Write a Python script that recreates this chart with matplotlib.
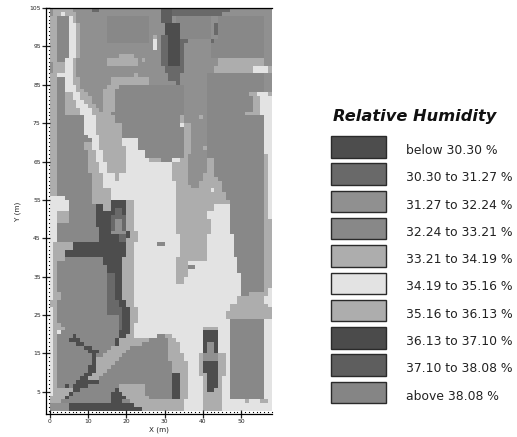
"""
Relative humidity class map (1 m cells) with a grey class legend on the right.
"""
import numpy as np
import matplotlib
matplotlib.use("Agg")
import matplotlib.pyplot as plt
from matplotlib.colors import ListedColormap
from matplotlib.patches import Rectangle

# ── Data ───────────────────────────────────────────────────────────────────
CLASS_KEYS = "abcdefghij"
CLASS_LABELS = ["below 30.30 %", "30.30 to 31.27 %", "31.27 to 32.24 %",
                "32.24 to 33.21 %", "33.21 to 34.19 %", "34.19 to 35.16 %",
                "35.16 to 36.13 %", "36.13 to 37.10 %", "37.10 to 38.08 %",
                "above 38.08 %"]
CLASS_GREYS = ["#4d4d4d", "#696969", "#909090", "#888888", "#adadad",
               "#e3e3e3", "#adadad", "#4b4b4b", "#5e5e5e", "#858585"]

X_TICKS = [0, 10, 20, 30, 40, 50]
Y_TICKS = [5, 15, 25, 35, 45, 55, 65, 75, 85, 95, 105]
N_X, N_Y = 58, 105

# one row per metre band: (y_top, y_bottom, "x_start class ...")
ROWS_TOP = [
    (105, 104, "0c 1e 6c 11b 13c 29i 32b 47c"),
    (104, 103, "0c 1e 3f 4e 7c 29i 32b 45c"),
    (103, 101, "0e 2d 5f 6e 7c 15d 26c 29i 32c 33d 42c 44d 56c"),
    (101, 98, "0e 2d 5f 7e 8c 15d 26c 30a 34d 42c 43b 44d 56c"),
    (98, 97, "0e 2d 5f 7e 8c 15d 26c 27e 28c 29b 31a 34d 42c 44d 56c"),
    (97, 96, "0e 2d 5f 7e 8c 15d 26c 27f 28c 29b 31a 34b 36c 42b 43d 56c"),
    (96, 94, "0e 2d 5f 7e 8c 27f 28c 29b 31a 34b 35c 42d 56c"),
    (94, 93, "0e 2d 5f 7e 8c 29b 31a 34b 35c 42d 56c"),
    (93, 92, "0e 2d 5f 7e 8c 18e 22c 29b 31a 34b 35c 42d 56c"),
    (92, 91, "0e 2d 4f 6e 7c 15e 23c 24e 25c 29b 31a 34b 35c 44e 56c"),
    (91, 90, "0c 1e 4f 6e 7c 15e 23c 29b 31a 34b 35c 44e 56c"),
    (90, 88, "0c 1e 4f 6e 7c 30b 35c 43e 53f 57e"),
    (88, 87, "0e 2f 6e 7c 22e 23c 31b 34c 41d 56c"),
    (87, 86, "0e 2d 4f 6e 8c 16e 26c 31b 34c 41d 56c"),
    (86, 85, "0e 2d 4f 6e 8c 16e 26c 33b 34c 41d 56c"),
    (85, 84, "0e 2d 4f 7e 8c 15e 18d 35c 41d 56c"),
    (84, 83, "0e 2d 4f 7e 9c 14e 17d 35c 41d 56c"),
    (83, 82, "0e 2d 4e 6f 8e 10c 14e 17d 35c 41d 52e 54f 57e"),
    (82, 81, "0e 2d 4e 6f 8e 11c 14e 17d 35c 41d 53e 55f"),
    (81, 80, "0e 2d 4e 7f 9e 11c 14e 17d 35c 41d 53e 55f"),
    (80, 79, "0e 2d 4e 7f 10e 12c 14e 17d 35c 41d 53e 55f"),
    (79, 78, "0e 2d 4e 8f 11e 13c 14e 17d 35c 41d 53e 55f"),
]
ROWS_MID = [
    (78, 77, "0e 2d 4e 8f 11e 16d 35c 41d 51e 55f"),
    (77, 76, "0e 2d 9f 12e 17d 34e 35c 39e 40c 41d 56f"),
    (76, 75, "0e 2d 9f 12e 17d 34e 35c 41d 56f"),
    (75, 74, "0e 2d 9f 12e 19d 34f 35e 37c 41d 56f"),
    (74, 72, "0e 2d 9f 12e 19d 35e 37c 41d 56f"),
    (72, 71, "0e 2d 10f 13e 19d 35e 37c 41d 56f"),
    (71, 70, "0e 2d 11f 13e 19f 23d 35e 37c 41d 56f"),
    (70, 69, "0e 2d 9e 11f 13e 19f 23d 35e 37c 41d 56f"),
    (69, 68, "0e 2d 9e 11f 13e 20f 23d 35e 37c 40e 41d 56f"),
    (68, 67, "0e 2d 10e 12f 14e 20f 25d 35e 37c 41d 56f"),
    (67, 66, "0e 2d 10e 12f 14e 20f 25d 35e 36c 41d 56e 57f"),
    (66, 65, "0e 2d 10e 12f 14e 20f 26e 29d 32f 34e 36c 41e 43d 56e 57f"),
    (65, 62, "0e 2d 10e 13f 15e 20f 32e 36c 41e 43d 56e 57f"),
    (62, 61, "0e 2d 11e 14f 17e 18f 32e 36c 40e 43d 56e 57f"),
    (61, 60, "0e 2d 11e 14f 17e 18f 32e 36c 40e 44d 56e 57f"),
    (60, 59, "0e 2d 11e 14f 33e 36c 39e 45d 56e 57f"),
    (59, 58, "0e 2d 11e 14f 33e 37c 39e 45d 56e 57f"),
    (58, 57, "0e 2d 11e 16f 33e 42f 43e 45d 56e 57f"),
    (57, 56, "0e 2d 11e 16f 33e 46d 56e 57f"),
    (56, 55, "0f 4d 11e 16f 33e 46d 56e 57f"),
    (55, 54, "0f 5d 11e 16a 20e 22f 33e 47d 56e 57f"),
    (54, 53, "0f 5d 12a 14e 16a 20e 22f 33e 43f 47d 56e 57f"),
    (53, 52, "0f 5d 12a 14e 16a 17b 19a 20e 22f 33e 43f 47d 56e 57f"),
    (52, 51, "0f 2e 5d 12a 17b 19a 20e 22f 33e 41f 47d 56e 57f"),
    (51, 50, "0f 2e 5d 12a 16b 20e 22f 33e 41f 47d 56e 57f"),
    (50, 49, "0f 2e 5d 12a 16b 17c 19b 20e 22f 33e 42f 47d 56e"),
    (49, 48, "0f 2d 12a 16b 17c 19b 20e 22f 33e 42f 47d 56e"),
    (48, 47, "0f 2d 13a 16b 17c 19b 20e 22f 33e 42f 47d 56e"),
    (47, 46, "0f 2d 13a 16c 20a 21e 23f 33e 42f 47d 56e"),
    (46, 45, "0f 2d 13a 18b 20a 21e 23f 34e 41f 48d 56e"),
    (45, 44, "0f 2d 13a 18b 20e 23f 34e 41f 48d 56e"),
    (44, 43, "0f 1e 6a 20e 22f 28d 30f 34e 41f 48d 56e"),
    (43, 42, "0f 1e 6a 20e 22f 34e 41f 48d 56e"),
    (42, 40, "0f 1e 4a 20e 22f 34e 41f 48d 56e"),
]
ROWS_LOW = [
    (40, 39, "0f 1e 4d 14a 19e 22f 33e 41f 49d 56e"),
    (39, 38, "0f 1e 2d 14a 19e 22f 33e 36f 49d 56e"),
    (38, 37, "0f 1e 2d 15a 19e 22f 33e 36d 38f 49d 56e"),
    (37, 36, "0f 1e 2d 15a 19e 22f 33e 36f 49d 56e"),
    (36, 35, "0f 1e 2d 15b 17a 19e 22f 33e 36f 50d 56e"),
    (35, 33, "0f 1e 2d 15b 17a 19e 22f 33e 35f 50d 56e"),
    (33, 32, "0f 1e 2d 15b 17a 19e 22f 50d 56e"),
    (32, 31, "0f 1e 2d 15b 17a 19e 22f 50d 56e 57f"),
    (31, 30, "0f 1e 3d 15b 17a 19e 22f 50d 52e 57f"),
    (30, 29, "0f 1e 3d 15b 17a 19e 22f 49e 56f"),
    (29, 28, "0e 2d 15b 18a 20e 22f 49e 56f"),
    (28, 27, "0e 2d 15b 18a 20e 22f 47e 57f"),
    (27, 26, "0f 1e 2d 15b 19a 21e 23f 47e"),
    (26, 25, "0f 1e 2d 15b 19a 21e 23f 46e"),
    (25, 24, "0f 1e 2d 18b 19a 21e 23f 46e"),
    (24, 23, "0f 1e 2d 18b 19a 21e 23f 47d 56f"),
    (23, 22, "0f 1e 3d 18b 19a 21e 22f 47d 56f"),
    (22, 21, "0f 1e 4d 18b 19a 21e 22f 40e 44f 47d 56f"),
    (21, 20, "0f 1e 2f 3d 18a 21e 22f 40a 44f 47d 56f"),
    (20, 19, "0f 1e 2d 6a 7d 18a 20e 22f 28d 30e 32f 40a 44f 47d 56f"),
    (19, 18, "0f 1e 2d 5a 8d 17a 18e 26d 31e 33f 40a 44f 47d 56f"),
    (18, 17, "0f 1e 2d 7a 9d 17a 18e 24d 31e 34f 40a 41c 43a 44f 47d 56f"),
    (17, 16, "0f 1e 2d 9a 11d 16e 21d 31e 34f 40a 41c 43a 44f 47d 56f"),
    (16, 15, "0f 1e 2d 10a 13d 15e 20d 31e 34f 40a 41c 43a 44f 47d 56f"),
    (15, 14, "0f 1e 2d 11a 12d 14e 19d 31e 35f 39e 40c 44e 46f 47d 56f"),
    (14, 13, "0f 1e 2d 11a 12e 18d 31e 35f 39e 40c 44e 46f 47d 56f"),
    (13, 12, "0f 1e 2d 11a 12e 17d 32e 36f 39e 40a 44e 46f 47d 56f"),
    (12, 11, "0f 1e 2d 10a 12e 16d 32e 36f 39e 40a 44e 46f 47d 56f"),
    (11, 10, "0f 1e 2d 10a 12e 15d 32e 36f 39e 40a 44e 46f 47d 56f"),
    (10, 9, "0f 1e 2d 9a 11e 14d 32a 34e 36f 39e 41a 44e 46f 47d 56f"),
    (9, 8, "0f 1e 2d 8a 10e 13d 32a 34e 36f 40e 41a 44e 45f 47d 56f"),
    (8, 7, "0f 1e 2d 7a 13d 32a 34e 36f 40e 41a 44e 45f 47d 56f"),
    (7, 6, "0f 1e 2d 4a 5d 6a 10d 18e 25d 32a 34e 36f 40e 41a 44e 45f 47d 56f"),
    (6, 5, "0f 1e 6a 8d 17a 18e 25d 32a 34e 36f 40e 41a 43e 45f 47d 56f"),
    (5, 4, "0f 1e 5a 6d 16a 19e 25d 32a 34e 36f 40e 45f 47d 56f"),
    (4, 3, "0e 4a 5d 16a 20e 26d 32a 34e 36f 40e 45f 47d 56f"),
    (3, 2, "0e 3d 16a 19d 21e 35f 40e 45f 51e 52f 55e 57f"),
    (2, 1, "0c 5a 22e 35f 40e 45f"),
    (1, 0, "0c 5a 24e 35f 40e 45f"),
]


def build_grid():
    grid = np.zeros((N_Y, N_X), dtype=int)
    for y_top, y_bot, spec in ROWS_TOP + ROWS_MID + ROWS_LOW:
        runs = spec.split()
        starts = [int(r[:-1]) for r in runs] + [N_X]
        for k, run in enumerate(runs):
            grid[y_bot:y_top, starts[k]:starts[k + 1]] = CLASS_KEYS.index(run[-1])
    return grid


# ── Plot ───────────────────────────────────────────────────────────────────
W, H = 517, 437
TEXT_COLOR = "#222222"
plt.rcParams["font.family"] = ["DejaVu Sans"]

fig = plt.figure(figsize=(W / 100, H / 100), dpi=100, facecolor="white")

# spine sits a few pixels off the data, as in the original
px_m_x = (272 - 49.5) / N_X
px_m_y = (411 - 8) / N_Y
x_pad = (49.5 - 46) / px_m_x
y_pad = (414 - 411) / px_m_y
ax = fig.add_axes([46 / W, (H - 414) / H, (272 - 46) / W, (414 - 8) / H])
ax.set_xlim(-x_pad, N_X)
ax.set_ylim(-y_pad, N_Y)

cmap = ListedColormap(CLASS_GREYS)
ax.pcolormesh(np.arange(N_X + 1), np.arange(N_Y + 1), build_grid(),
              cmap=cmap, vmin=-0.5, vmax=len(CLASS_GREYS) - 0.5,
              shading="flat", rasterized=True)

# dotted metre marks just inside the axis lines
ax.plot(np.full(N_Y + 1, -0.2), np.arange(N_Y + 1), ls="none", marker="s",
        ms=0.8, mew=0, color="black", clip_on=False)
ax.plot(np.arange(N_X + 1), np.full(N_X + 1, -0.2), ls="none", marker="s",
        ms=0.8, mew=0, color="black", clip_on=False)

ax.set_xticks(X_TICKS)
ax.set_yticks(Y_TICKS)
ax.tick_params(axis="both", direction="inout", length=5.5, width=0.9,
               labelsize=4.3, pad=1, colors=TEXT_COLOR)
ax.set_xlabel("X (m)", fontsize=5.2, color=TEXT_COLOR, labelpad=2)
ax.set_ylabel("Y (m)", fontsize=5.2, color=TEXT_COLOR, labelpad=6)
ax.spines["right"].set_visible(False)
for side in ["left", "bottom", "top"]:
    ax.spines[side].set_linewidth(0.9)

# ── Legend ─────────────────────────────────────────────────────────────────
lax = fig.add_axes([0, 0, 1, 1], facecolor="none")
lax.set_xlim(0, W)
lax.set_ylim(H, 0)
lax.axis("off")
lax.text(333, 116, "Relative Humidity", fontsize=11.7, fontweight="bold",
         fontstyle="italic", va="center", color="#111111")
for i, (grey, label) in enumerate(zip(CLASS_GREYS, CLASS_LABELS)):
    top = 136 + i * 27.3
    lax.add_patch(Rectangle((331, top), 55, 21.5, facecolor=grey,
                            edgecolor="#2a2a2a", linewidth=1))
    lax.text(406.5, top + 14.5, label, fontsize=8.9, va="center",
             color=TEXT_COLOR)

fig.savefig("out.png", dpi=100, facecolor="white")
